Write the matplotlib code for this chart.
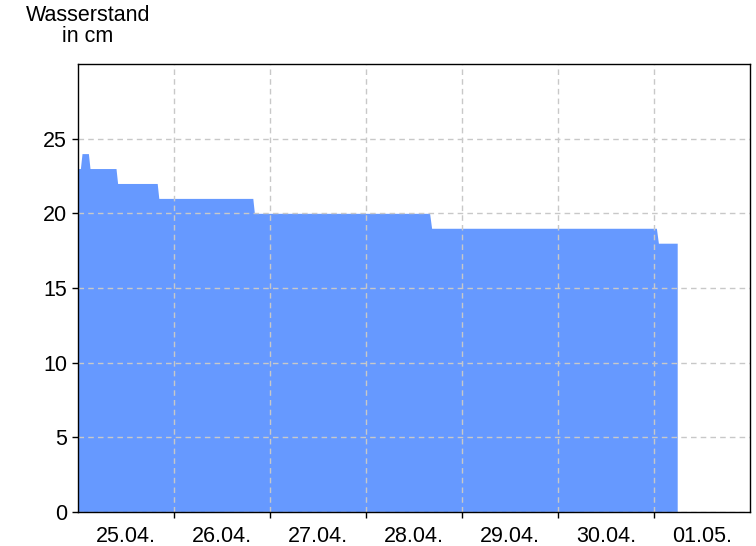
import matplotlib.pyplot as plt

plt.rcParams['font.family'] = ['Liberation Sans', 'DejaVu Sans']

# Stunden ab 25.04. 00:00 und Wasserstand in cm
stunden = [0, 0.6, 1.0, 2.6, 3.0, 9.5, 9.9, 19.8, 20.2, 43.7, 44.1,
           87.9, 88.4, 144.6, 145.1, 149.8]
wasserstand = [23, 23, 24, 24, 23, 23, 22, 22, 21, 21, 20,
               20, 19, 19, 18, 18]
tage = ['25.04.', '26.04.', '27.04.', '28.04.', '29.04.', '30.04.', '01.05.']

fig = plt.figure(figsize=(7.56, 5.46), dpi=100)
ax = fig.add_axes([78/756, 34/546, 672/756, 448/546])

ax.fill_between(stunden, wasserstand, 0, color='#6699ff', linewidth=0, zorder=1)

ax.set_xlim(0, 7 * 24)
ax.set_ylim(0, 30)
ax.set_yticks([0, 5, 10, 15, 20, 25])
ax.set_xticks([24 * i for i in range(1, 7)])
ax.set_xticklabels([])
ax.set_xticks([24 * i + 12 for i in range(7)], minor=True)
ax.set_xticklabels(tage, minor=True)
ax.tick_params(axis='x', which='minor', length=0, labelsize=15.5, pad=10)
ax.tick_params(axis='x', which='major', length=4, width=1)
ax.tick_params(axis='y', length=4, width=1, labelsize=15.5, pad=4)

ax.grid(True, which='major', color='#c8c8c8', linestyle=(0, (4, 3)), linewidth=1)
ax.set_axisbelow(False)
for s in ax.spines.values():
    s.set_linewidth(1)
    s.set_zorder(3)

fig.text(88/756, 1 - 26/546, 'Wasserstand\nin cm', ha='center', va='center',
         fontsize=15.5, linespacing=0.98)

plt.savefig('out.png', dpi=100)
